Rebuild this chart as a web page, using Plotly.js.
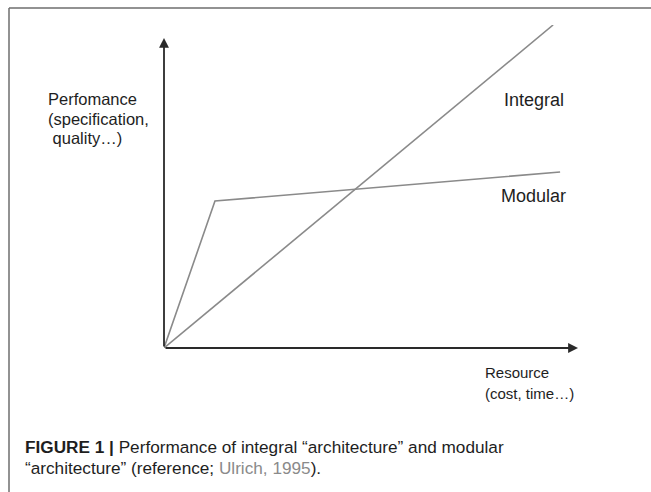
<!DOCTYPE html>
<html>
<head>
<meta charset="utf-8">
<script src="https://cdn.plot.ly/plotly-3.0.1.min.js"></script>
<style>
  html, body { margin: 0; padding: 0; background: #fff; }
  #chart { width: 651px; height: 492px; }
</style>
</head>
<body>
<div id="chart"></div>
<script>
// ---- data (conceptual units: resource vs performance) ----
const integralResource = [0, 10];
const integralPerformance = [0, 10];
const modularResource = [0, 1.31, 10.18];
const modularPerformance = [0, 4.55, 5.45];
const axisMax = { resource: 10.64, performance: 9.6 };
const seriesLabels = ["Integral", "Modular"];
const yLabelLines = ["Perfomance", "(specification,", " quality…)"];
const xLabelLines = ["Resource", "(cost, time…)"];
const captionLines = [
  "<b>FIGURE 1 |</b> Performance of integral “architecture” and modular",
  "“architecture” (reference; <span style=\"color:#8a8a8a\">Ulrich, 1995</span>)."
];

const W = 651, H = 492;
const px = (x) => x / W;
const py = (y) => 1 - y / H;

const labelFont = { family: "Liberation Sans, Arial, sans-serif", size: 16.5, color: "#1e1e1e" };
const seriesFont = { family: "Liberation Sans, Arial, sans-serif", size: 18, color: "#1e1e1e" };
const xLabelFont = { family: "Liberation Sans, Arial, sans-serif", size: 15, color: "#1e1e1e" };
const captionFont = { family: "Liberation Sans, Arial, sans-serif", size: 17.2, color: "#1e1e1e" };

const traces = [
  {
    x: integralResource, y: integralPerformance, mode: "lines", name: seriesLabels[0],
    line: { color: "#8a8a8a", width: 1.6 }, hoverinfo: "skip", cliponaxis: false
  },
  {
    x: modularResource, y: modularPerformance, mode: "lines", name: seriesLabels[1],
    line: { color: "#8a8a8a", width: 1.6 }, hoverinfo: "skip", cliponaxis: false
  }
];

function textLine(text, x, yc, font) {
  return { x: px(x), y: py(yc), xref: "paper", yref: "paper", xanchor: "left", yanchor: "middle",
           text: text, showarrow: false, align: "left", font: font, borderpad: 0 };
}

const annotations = [
  { x: axisMax.resource, y: 0, ax: 0, ay: 0, xref: "x", yref: "y", axref: "x", ayref: "y",
    text: "", showarrow: true, arrowhead: 2, arrowsize: 1.1, arrowwidth: 1.8, arrowcolor: "#2a2a2a" },
  { x: 0, y: axisMax.performance, ax: 0, ay: 0, xref: "x", yref: "y", axref: "x", ayref: "y",
    text: "", showarrow: true, arrowhead: 2, arrowsize: 1.1, arrowwidth: 1.8, arrowcolor: "#2a2a2a" },
  textLine(seriesLabels[0], 503, 100, seriesFont),
  textLine(seriesLabels[1], 500, 196, seriesFont)
];
yLabelLines.forEach((t, i) => annotations.push(textLine(t, 47, 99 + i * 19.5, labelFont)));
xLabelLines.forEach((t, i) => annotations.push(textLine(t, 484, 372 + i * 21, xLabelFont)));
captionLines.forEach((t, i) => annotations.push(textLine(t, 24, 447 + i * 21, captionFont)));

const layout = {
  width: W, height: H,
  margin: { l: 0, r: 0, t: 0, b: 0 },
  paper_bgcolor: "#fff", plot_bgcolor: "rgba(0,0,0,0)",
  showlegend: false,
  xaxis: {
    domain: [px(164), px(578)], range: [0, 10.64],
    showgrid: false, zeroline: false, showline: false, showticklabels: false, ticks: ""
  },
  yaxis: {
    domain: [py(348), py(25)], range: [0, 10],
    showgrid: false, zeroline: false, showline: false, showticklabels: false, ticks: ""
  },
  shapes: [
    { type: "line", xref: "paper", yref: "paper", x0: px(9), x1: 1, y0: py(8), y1: py(8),
      line: { color: "#6e6e6e", width: 1.5 } },
    { type: "line", xref: "paper", yref: "paper", x0: px(9), x1: px(9), y0: py(8), y1: 0,
      line: { color: "#6e6e6e", width: 1.5 } }
  ],
  annotations: annotations
};

Plotly.newPlot("chart", traces, layout, { staticPlot: true, displayModeBar: false });
</script>
</body>
</html>
